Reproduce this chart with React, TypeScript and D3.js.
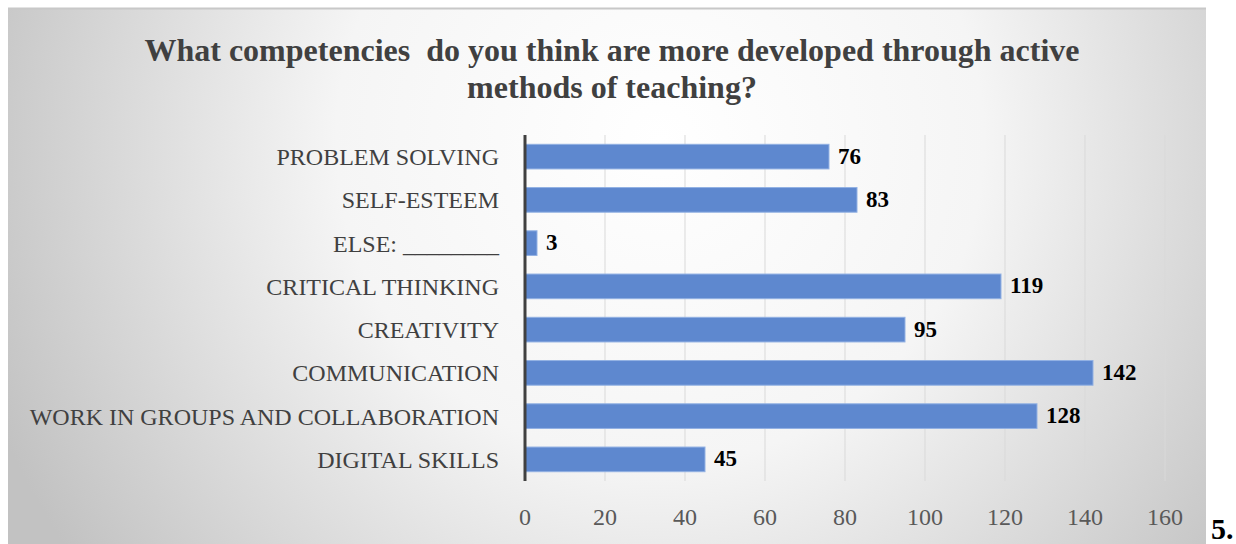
import React, { useEffect, useRef } from 'react';
import * as d3 from 'd3';

const categories = [
  'PROBLEM SOLVING',
  'SELF-ESTEEM',
  'ELSE: ________',
  'CRITICAL THINKING',
  'CREATIVITY',
  'COMMUNICATION',
  'WORK IN GROUPS AND COLLABORATION',
  'DIGITAL SKILLS',
];
const counts = [76, 83, 3, 119, 95, 142, 128, 45];
const xTicks = [0, 20, 40, 60, 80, 100, 120, 140, 160];
const titleLines = [
  'What competencies  do you think are more developed through active',
  'methods of teaching?',
];

const W = 1236;
const H = 544;
const FONT = 'Liberation Serif, Times New Roman, serif';

function App() {
  const svgRef = useRef<SVGSVGElement>(null);

  useEffect(() => {
    const svg = d3.select(svgRef.current);
    svg.selectAll('*').remove();

    const defs = svg.append('defs');
    const grad = defs
      .append('radialGradient')
      .attr('id', 'bg')
      .attr('gradientUnits', 'userSpaceOnUse')
      .attr('cx', 660)
      .attr('cy', 140)
      .attr('r', 720);
    grad.append('stop').attr('offset', '0%').attr('stop-color', '#ffffff');
    grad.append('stop').attr('offset', '45%').attr('stop-color', '#f5f5f5');
    grad.append('stop').attr('offset', '100%').attr('stop-color', '#c2c2c2');

    // chart frame
    svg
      .append('rect')
      .attr('x', 8)
      .attr('y', 8)
      .attr('width', 1198)
      .attr('height', H - 8)
      .attr('fill', 'url(#bg)');
    svg
      .append('line')
      .attr('x1', 8)
      .attr('x2', 1206)
      .attr('y1', 8.5)
      .attr('y2', 8.5)
      .attr('stroke', '#c8c8c8')
      .attr('stroke-width', 2);

    const margin = { left: 525, right: 71, top: 135, bottom: 63 };
    const x = d3
      .scaleLinear()
      .domain([0, 160])
      .range([margin.left, W - margin.right]);
    const y = d3
      .scaleBand()
      .domain(categories)
      .range([margin.top, H - margin.bottom])
      .paddingInner(0.43)
      .paddingOuter(0.215);

    // title
    svg
      .append('g')
      .selectAll('text')
      .data(titleLines)
      .join('text')
      .attr('x', 612)
      .attr('y', (d, i) => 61 + i * 37)
      .attr('text-anchor', 'middle')
      .style('font-family', FONT)
      .style('font-weight', 'bold')
      .style('font-size', '32px')
      .style('white-space', 'pre')
      .attr('fill', '#404040')
      .text(d => d);

    // grid
    svg
      .append('g')
      .selectAll('line')
      .data(xTicks.slice(1))
      .join('line')
      .attr('x1', d => x(d))
      .attr('x2', d => x(d))
      .attr('y1', margin.top)
      .attr('y2', H - margin.bottom)
      .attr('stroke', '#d9d9d9')
      .attr('stroke-width', 1);

    // x tick labels
    svg
      .append('g')
      .selectAll('text')
      .data(xTicks)
      .join('text')
      .attr('x', d => x(d))
      .attr('y', 525)
      .attr('text-anchor', 'middle')
      .style('font-family', FONT)
      .style('font-size', '24px')
      .attr('fill', '#595959')
      .text(d => d);

    // bars
    svg
      .append('g')
      .selectAll('rect')
      .data(counts)
      .join('rect')
      .attr('x', x(0))
      .attr('y', (d, i) => y(categories[i])!)
      .attr('width', d => x(d) - x(0))
      .attr('height', y.bandwidth())
      .attr('fill', '#5e88cf')
      .attr('stroke', '#92b1e3')
      .attr('stroke-width', 1);

    // axis line
    svg
      .append('line')
      .attr('x1', x(0))
      .attr('x2', x(0))
      .attr('y1', margin.top)
      .attr('y2', H - margin.bottom)
      .attr('stroke', '#404040')
      .attr('stroke-width', 3);

    // category labels
    svg
      .append('g')
      .selectAll('text')
      .data(categories)
      .join('text')
      .attr('x', 499)
      .attr('y', d => y(d)! + y.bandwidth() / 2)
      .attr('dy', '0.35em')
      .attr('text-anchor', 'end')
      .style('font-family', FONT)
      .style('font-size', '24px')
      .attr('fill', '#404040')
      .text(d => d);

    // value labels
    svg
      .append('g')
      .selectAll('text')
      .data(counts)
      .join('text')
      .attr('x', d => x(d) + 9)
      .attr('y', (d, i) => y(categories[i])! + y.bandwidth() / 2)
      .attr('dy', '0.3em')
      .style('font-family', FONT)
      .style('font-weight', 'bold')
      .style('font-size', '23px')
      .attr('fill', '#000')
      .text(d => d);

    // trailing figure number
    svg
      .append('text')
      .attr('x', 1211)
      .attr('y', 539)
      .style('font-family', FONT)
      .style('font-weight', 'bold')
      .style('font-size', '30px')
      .attr('fill', '#000')
      .text('5.');
  }, []);

  return (
    <svg
      ref={svgRef}
      width={W}
      height={H}
      style={{ position: 'absolute', left: 0, top: 0, background: '#fff' }}
    ></svg>
  );
}

export default App;
